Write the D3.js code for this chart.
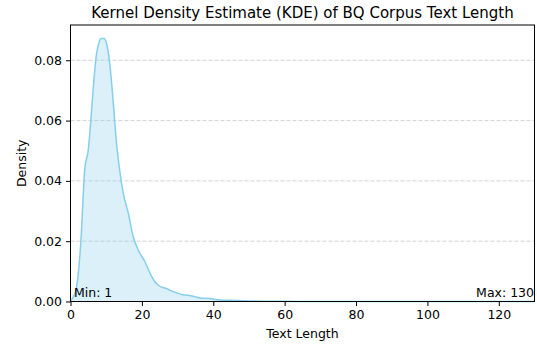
<!DOCTYPE html>
<html>
<head>
<meta charset="utf-8">
<script src="https://cdn.jsdelivr.net/npm/d3@7"></script>
<style>
  body { margin: 0; background: #fff; }
  text { font-family: "DejaVu Sans", sans-serif; fill: #000; }
</style>
</head>
<body>
<div id="chart"></div>
<script>
// datos de la curva KDE
var kdeX = [0, 0.8, 1.7, 2.9, 4.0, 5.0, 5.7, 6.4, 7.3, 8.0, 8.6, 9.4, 10.3, 11.1, 12.0, 12.9, 13.9, 14.8, 16.2, 17.6, 19.0, 20.9, 22.3, 23.5, 24.6, 25.1, 26.9, 27.9, 30.2, 31.6, 33.0, 36.3, 39.1, 41.9, 45.0, 49.4, 55.0, 60.0, 70.0, 90.0, 110.0, 130.0];
var kdeY = [0.0003, 0.0015, 0.0048, 0.0198, 0.0440, 0.0505, 0.0600, 0.0712, 0.0822, 0.0860, 0.0872, 0.0872, 0.0845, 0.0778, 0.0657, 0.0524, 0.0425, 0.0358, 0.0292, 0.0214, 0.0170, 0.0131, 0.0093, 0.0068, 0.0054, 0.0050, 0.0043, 0.0037, 0.0027, 0.0022, 0.0021, 0.0012, 0.0010, 0.0005, 0.0004, 0.0002, 0.0001, 0.00005, 0, 0, 0, 0];

var yTicks = [0, 0.02, 0.04, 0.06, 0.08];
var xTicks = [0, 20, 40, 60, 80, 100, 120];

var minLen = 1;
var maxLen = 130;

// tamaño
var width = 537;
var height = 350;
var margin = { top: 25, right: 2.5, bottom: 48.5, left: 70.5 };

var svg = d3.select("#chart")
  .append("svg")
  .attr("width", width)
  .attr("height", height);

var xScale = d3.scaleLinear()
  .domain([0, 130])
  .range([margin.left, width - margin.right]);

var yScale = d3.scaleLinear()
  .domain([0, 0.0917])
  .range([height - margin.bottom, margin.top]);

// grid horizontal
svg.append("g")
  .selectAll("line")
  .data(yTicks)
  .enter()
  .append("line")
  .attr("x1", margin.left)
  .attr("x2", width - margin.right)
  .attr("y1", function(d) { return yScale(d); })
  .attr("y2", function(d) { return yScale(d); })
  .attr("stroke", "#b0b0b0")
  .attr("stroke-opacity", 0.7)
  .attr("stroke-dasharray", "4,2")
  .attr("stroke-width", 0.8);

var pts = kdeX.map(function(x, i) { return [x, kdeY[i]]; });

// area
var area = d3.area()
  .x(function(d) { return xScale(d[0]); })
  .y0(yScale(0))
  .y1(function(d) { return yScale(d[1]); })
  .curve(d3.curveMonotoneX);

svg.append("path")
  .datum(pts)
  .attr("d", area)
  .attr("fill", "#87ceeb")
  .attr("fill-opacity", 0.3);

var line = d3.line()
  .x(function(d) { return xScale(d[0]); })
  .y(function(d) { return yScale(d[1]); })
  .curve(d3.curveMonotoneX);

svg.append("path")
  .datum(pts)
  .attr("d", line)
  .attr("fill", "none")
  .attr("stroke", "#87ceeb")
  .attr("stroke-width", 1.5);

// ejes
var xAxis = d3.axisBottom(xScale).tickValues(xTicks).tickSize(4.5).tickPadding(4).tickFormat(d3.format("d"));
var yAxis = d3.axisLeft(yScale).tickValues(yTicks).tickSize(4.5).tickPadding(4).tickFormat(d3.format(".2f"));

svg.append("g")
  .attr("class", "xAxis")
  .attr("transform", "translate(0," + (height - margin.bottom) + ")")
  .call(xAxis);

svg.append("g")
  .attr("class", "yAxis")
  .attr("transform", "translate(" + margin.left + ",0)")
  .call(yAxis);

svg.selectAll(".xAxis text, .yAxis text")
  .attr("font-size", 12.5)
  .attr("font-family", "DejaVu Sans");
svg.selectAll(".domain").remove();

// marco
svg.append("rect")
  .attr("x", margin.left)
  .attr("y", margin.top)
  .attr("width", width - margin.left - margin.right)
  .attr("height", height - margin.top - margin.bottom)
  .attr("fill", "none")
  .attr("stroke", "#000")
  .attr("stroke-width", 1);

// textos
svg.append("text")
  .attr("x", (margin.left + width - margin.right) / 2)
  .attr("y", 18)
  .attr("text-anchor", "middle")
  .attr("font-size", 15)
  .text("Kernel Density Estimate (KDE) of BQ Corpus Text Length");

svg.append("text")
  .attr("x", (margin.left + width - margin.right) / 2)
  .attr("y", 338)
  .attr("text-anchor", "middle")
  .attr("font-size", 12.5)
  .text("Text Length");

svg.append("text")
  .attr("transform", "translate(26," + ((margin.top + height - margin.bottom) / 2) + ")rotate(-90)")
  .attr("text-anchor", "middle")
  .attr("font-size", 12.5)
  .text("Density");

svg.append("text")
  .attr("x", margin.left + 3.5)
  .attr("y", yScale(0) - 4.5)
  .attr("font-size", 12.5)
  .text("Min: " + minLen);

svg.append("text")
  .attr("x", width - margin.right - 0.5)
  .attr("y", yScale(0) - 4.5)
  .attr("text-anchor", "end")
  .attr("font-size", 12.5)
  .text("Max: " + maxLen);
</script>
</body>
</html>
